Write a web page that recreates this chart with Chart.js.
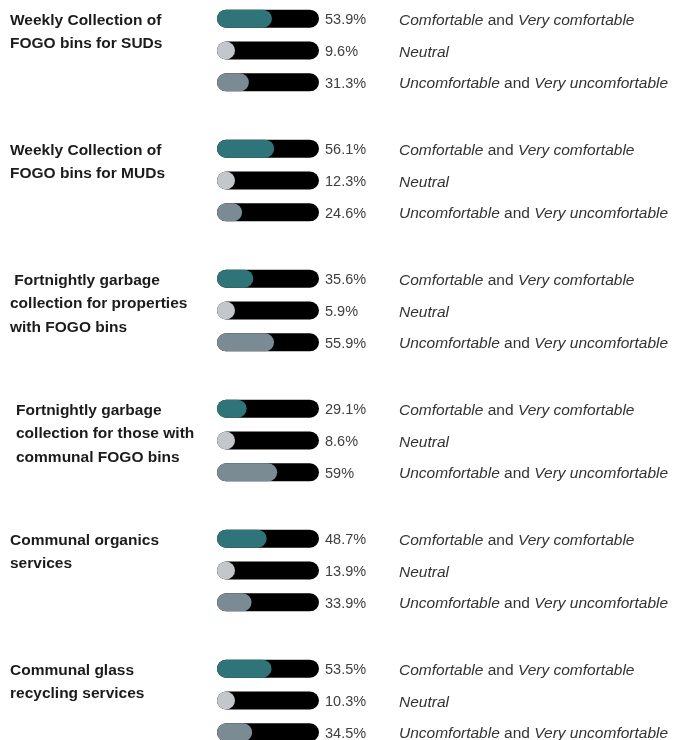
<!DOCTYPE html>
<html>
<head>
<meta charset="utf-8">
<script src="https://cdn.jsdelivr.net/npm/chart.js"></script>
<style>
  html, body { margin: 0; padding: 0; background: #fff; }
  #wrap { width: 677px; height: 740px; }
</style>
</head>
<body>
<div id="wrap"><canvas id="comfortChart" width="677" height="740"></canvas></div>
<script>
// service names (one entry per line of the label)
const services = [
  ["Weekly Collection of", "FOGO bins for SUDs"],
  ["Weekly Collection of", "FOGO bins for MUDs"],
  [" Fortnightly garbage", "collection for properties", "with FOGO bins"],
  ["Fortnightly garbage", "collection for those with", "communal FOGO bins"],
  ["Communal organics", "services"],
  ["Communal glass", "recycling services"],
];

// % of respondents per service
const comfortable = [53.9, 56.1, 35.6, 29.1, 48.7, 53.5];
const neutral = [9.6, 12.3, 5.9, 8.6, 13.9, 10.3];
const uncomfortable = [31.3, 24.6, 55.9, 59, 33.9, 34.5];

// response labels, [text, italic]
const responseLabels = [
  [["Comfortable", true], [" and ", false], ["Very comfortable", true]],
  [["Neutral", true]],
  [["Uncomfortable", true], [" and ", false], ["Very uncomfortable", true]],
];

(function () {
  "use strict";

  const series = [comfortable, neutral, uncomfortable];
  const stacks = ["c", "n", "u"];
  const fillColors = ["#2f7479", "#c3c7cc", "#7a8b94"];
  const titleX = [10, 10, 10, 16, 10, 10];
  const sans = "'Liberation Sans', Arial, sans-serif";

  const datasets = [];
  series.forEach((data, r) => {
    datasets.push({
      data: data,
      stack: stacks[r],
      backgroundColor: fillColors[r],
      minBarLength: 18,
    });
  });
  // black tracks, drawn behind the fills
  series.forEach((data, r) => {
    datasets.push({
      data: data.map(() => 100),
      stack: stacks[r],
      backgroundColor: "#000000",
    });
  });

  const rowText = {
    id: "rowText",
    afterDatasetsDraw(chart) {
      const ctx = chart.ctx;
      ctx.save();
      ctx.textBaseline = "alphabetic";
      services.forEach((lines, g) => {
        const first = chart.getDatasetMeta(0).data[g];
        ctx.font = "bold 15.5px " + sans;
        ctx.fillStyle = "#1b1b1b";
        lines.forEach((line, i) => {
          ctx.fillText(line, titleX[g], first.y + 6 + i * 23.5);
        });

        series.forEach((data, r) => {
          const bar = chart.getDatasetMeta(r).data[g];
          const track = chart.getDatasetMeta(r + 3).data[g];
          ctx.font = "14.5px " + sans;
          ctx.fillStyle = "#404040";
          ctx.fillText(data[g] + "%", track.x + 6, bar.y + 5.5);

          let x = 399;
          responseLabels[r].forEach(([text, italic]) => {
            ctx.font = (italic ? "italic " : "") + "15.5px " + sans;
            ctx.fillStyle = "#333333";
            ctx.fillText(text, x, bar.y + 6);
            x += ctx.measureText(text).width;
          });
        });
      });
      ctx.restore();
    },
  };

  new Chart(document.getElementById("comfortChart"), {
    type: "bar",
    data: {
      labels: services.map((s) => s.join(" ").trim()),
      datasets: datasets,
    },
    options: {
      responsive: false,
      animation: false,
      indexAxis: "y",
      layout: { padding: { left: 217, right: 358, top: 50.5, bottom: 39.5 } },
      datasets: {
        bar: {
          categoryPercentage: 0.734,
          barPercentage: 0.566,
          borderRadius: 20,
          borderSkipped: false,
          clip: false,
        },
      },
      scales: {
        x: { min: 0, max: 100, stacked: false, display: false },
        y: { stacked: true, offset: false, display: false },
      },
      plugins: {
        legend: { display: false },
        tooltip: { enabled: false },
      },
    },
    plugins: [rowText],
  });
})();
</script>
</body>
</html>
